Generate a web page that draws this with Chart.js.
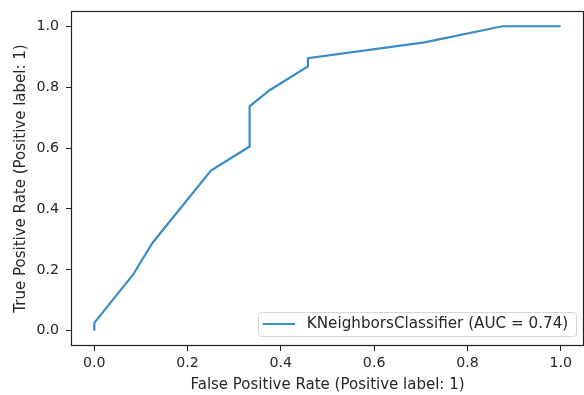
<!DOCTYPE html>
<html><head><meta charset="utf-8">
<script src="https://cdn.jsdelivr.net/npm/chart.js@4/dist/chart.umd.min.js"></script>
<style>html,body{margin:0;padding:0;background:#fff}#wrap{width:584px;height:395px}</style>
</head><body><div id="wrap"><canvas id="c" width="584" height="395"></canvas></div>
<script>
const seriesLabel = 'KNeighborsClassifier (AUC = 0.74)';
const fpr = [0, 0, 0.083, 0.125, 0.25, 0.333, 0.333, 0.375, 0.458, 0.458, 0.708, 0.875, 1.0];
const tpr = [0, 0.026, 0.184, 0.289, 0.526, 0.605, 0.737, 0.789, 0.868, 0.895, 0.947, 1.0, 1.0];
const xTicks = [0, 0.2, 0.4, 0.6, 0.8, 1.0];
const yTicks = [0, 0.2, 0.4, 0.6, 0.8, 1.0];
const xTitle = 'False Positive Rate (Positive label: 1)';
const yTitle = 'True Positive Rate (Positive label: 1)';

const FONT = 'DejaVu Sans';
const TICK_FS = 14.2;
const TITLE_FS = 15;
const LEG_FS = 15.2;
const lineColor = '#3a8bc6';
const inkColor = '#262626';

const frame = {
  id: 'frame',
  afterDatasetsDraw(chart) {
    const a = chart.chartArea, ctx = chart.ctx;
    ctx.save();
    ctx.strokeStyle = '#222';
    ctx.lineWidth = 1.2;
    ctx.strokeRect(a.left + 0.5, a.top + 0.5, a.right - a.left - 1, a.bottom - a.top - 1);
    // legend
    const ds = chart.data.datasets[0];
    ctx.font = LEG_FS + 'px "' + FONT + '"';
    const tw = ctx.measureText(ds.label).width;
    const right = a.right - 8, bottom = a.bottom - 10, h = 24;
    const w = tw + 56.4;
    const left = right - w, top = bottom - h;
    ctx.beginPath();
    if (ctx.roundRect) ctx.roundRect(left + 0.5, top + 0.5, w, h, 3); else ctx.rect(left + 0.5, top + 0.5, w, h);
    ctx.fillStyle = 'rgba(255,255,255,0.85)';
    ctx.fill();
    ctx.strokeStyle = '#d6d6d6';
    ctx.lineWidth = 1;
    ctx.stroke();
    const cy = top + h / 2;
    ctx.beginPath();
    ctx.moveTo(left + 4.7, cy);
    ctx.lineTo(left + 37, cy);
    ctx.strokeStyle = ds.borderColor;
    ctx.lineWidth = ds.borderWidth;
    ctx.stroke();
    ctx.fillStyle = inkColor;
    ctx.textBaseline = 'middle';
    ctx.textAlign = 'left';
    ctx.fillText(ds.label, left + 48.7, cy + 0.5);
    ctx.restore();
  }
};

new Chart(document.getElementById('c'), {
  type: 'line',
  data: {
    datasets: [{
      label: seriesLabel,
      data: fpr.map((x, i) => ({x: x, y: tpr[i]})),
      borderColor: lineColor,
      borderWidth: 2.2,
      pointRadius: 0,
      tension: 0,
      fill: false
    }]
  },
  options: {
    responsive: false,
    animation: false,
    layout: {padding: {left: 0, right: 0, top: 11, bottom: 0}},
    plugins: {legend: {display: false}, tooltip: {enabled: false}},
    scales: {
      x: {
        type: 'linear', min: -0.05, max: 1.05,
        afterBuildTicks: s => { s.ticks = xTicks.map(v => ({value: v})); },
        afterFit: s => { s.height = 49; s.paddingLeft = 0; s.paddingRight = 0; },
        ticks: {callback: v => v.toFixed(1), font: {family: FONT, size: TICK_FS}, color: inkColor, padding: 4, maxRotation: 0, autoSkip: false},
        grid: {drawOnChartArea: false, drawTicks: true, tickLength: 5, tickColor: '#222', tickWidth: 1},
        border: {display: false},
        title: {display: true, text: xTitle, font: {family: FONT, size: TITLE_FS}, color: inkColor, padding: {top: 0, bottom: 1}}
      },
      y: {
        type: 'linear', min: -0.05, max: 1.05,
        afterBuildTicks: s => { s.ticks = yTicks.map(v => ({value: v})); },
        afterFit: s => { s.width = 71; s.paddingTop = 0; s.paddingBottom = 0; },
        ticks: {callback: v => v.toFixed(1), font: {family: FONT, size: TICK_FS}, color: inkColor, padding: 7, autoSkip: false},
        grid: {drawOnChartArea: false, drawTicks: true, tickLength: 5, tickColor: '#222', tickWidth: 1},
        border: {display: false},
        title: {display: true, text: yTitle, font: {family: FONT, size: TITLE_FS}, color: inkColor, padding: {top: 12, bottom: 0}}
      }
    }
  },
  plugins: [frame]
});
</script></body></html>
